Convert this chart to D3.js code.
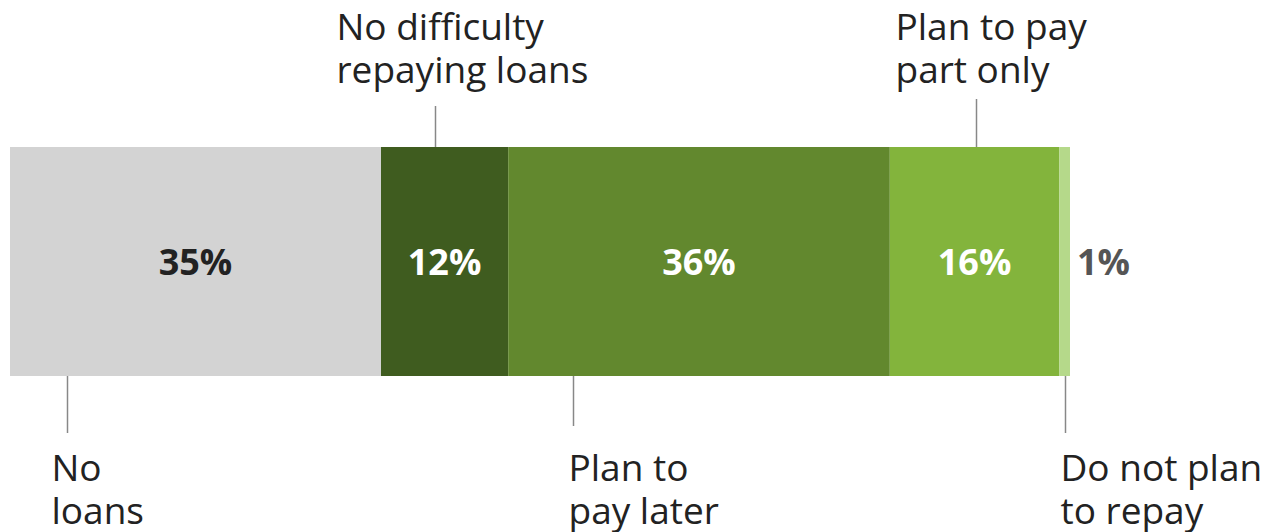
<!DOCTYPE html>
<html>
<head>
<meta charset="utf-8">
<script src="https://cdn.jsdelivr.net/npm/d3@7"></script>
<style>
  body { margin: 0; background: #fff; }
  text { font-family: "Open Sans", sans-serif; }
</style>
</head>
<body>
<div id="chart"></div>
<script>
// data
var categories = ["No loans", "No difficulty repaying loans", "Plan to pay later", "Plan to pay part only", "Do not plan to repay"];
var values = [35, 12, 36, 16, 1];
var labelLines = [["No", "loans"], ["No difficulty", "repaying loans"], ["Plan to", "pay later"], ["Plan to pay", "part only"], ["Do not plan", "to repay"]];
var colors = ["#d3d3d3", "#3f5c1f", "#62882e", "#83b43c", "#b5d98a"];

// layout
var labelSide = ["bottom", "top", "bottom", "top", "bottom"];
var leaderFrac = [0.154, 0.425, 0.17, 0.51, 0.5];
var textShift = [-16, -99, -5, -81, -5];
var leaderLen = [57, 41, 50, 48, 57];
var pctColor = ["#222", "#fff", "#fff", "#fff", "#555"];

var width = 1268,
  height = 532,
  svg = d3.select("#chart").append("svg")
    .attr("width", width)
    .attr("height", height);

var barTop = 147, barH = 229;

var x = d3.scaleLinear().domain([0, d3.sum(values)]).range([10, 1070]);

var stacked = [];
var acc = 0;
values.forEach(function(v, i) {
  stacked.push({ i: i, v: v, x0: acc, x1: acc + v });
  acc += v;
});

svg.selectAll("rect.seg")
  .data(stacked)
  .enter().append("rect")
  .attr("class", "seg")
  .attr("x", d => x(d.x0))
  .attr("y", barTop)
  .attr("width", d => x(d.x1) - x(d.x0))
  .attr("height", barH)
  .attr("fill", d => colors[d.i]);

// percentage labels
svg.selectAll("text.pct")
  .data(stacked)
  .enter().append("text")
  .attr("class", "pct")
  .attr("x", d => d.v < 3 ? x(d.x1) + 7 : (x(d.x0) + x(d.x1)) / 2)
  .attr("y", barTop + barH / 2 + 13)
  .attr("text-anchor", d => d.v < 3 ? "start" : "middle")
  .style("font-size", "36px")
  .style("font-weight", "bold")
  .style("fill", d => pctColor[d.i])
  .text(d => d.v + "%");

// leader lines and category labels
stacked.forEach(function(d) {
  var lx = Math.round(x(d.x0) + (x(d.x1) - x(d.x0)) * leaderFrac[d.i]) + 0.5;
  var top = labelSide[d.i] == "top";
  var y0 = top ? barTop : barTop + barH;
  var y1 = top ? y0 - leaderLen[d.i] : y0 + leaderLen[d.i];
  svg.append("line")
    .attr("x1", lx).attr("x2", lx)
    .attr("y1", y0).attr("y2", y1)
    .attr("stroke", "#888")
    .attr("stroke-width", 1.5);

  var t = svg.append("text")
    .attr("x", lx + textShift[d.i])
    .attr("y", top ? 40 : 481)
    .style("font-size", "37px")
    .style("fill", "#222");
  labelLines[d.i].forEach(function(line, k) {
    t.append("tspan")
      .attr("x", lx + textShift[d.i])
      .attr("dy", k == 0 ? 0 : 43)
      .text(line);
  });
});
</script>
</body>
</html>
